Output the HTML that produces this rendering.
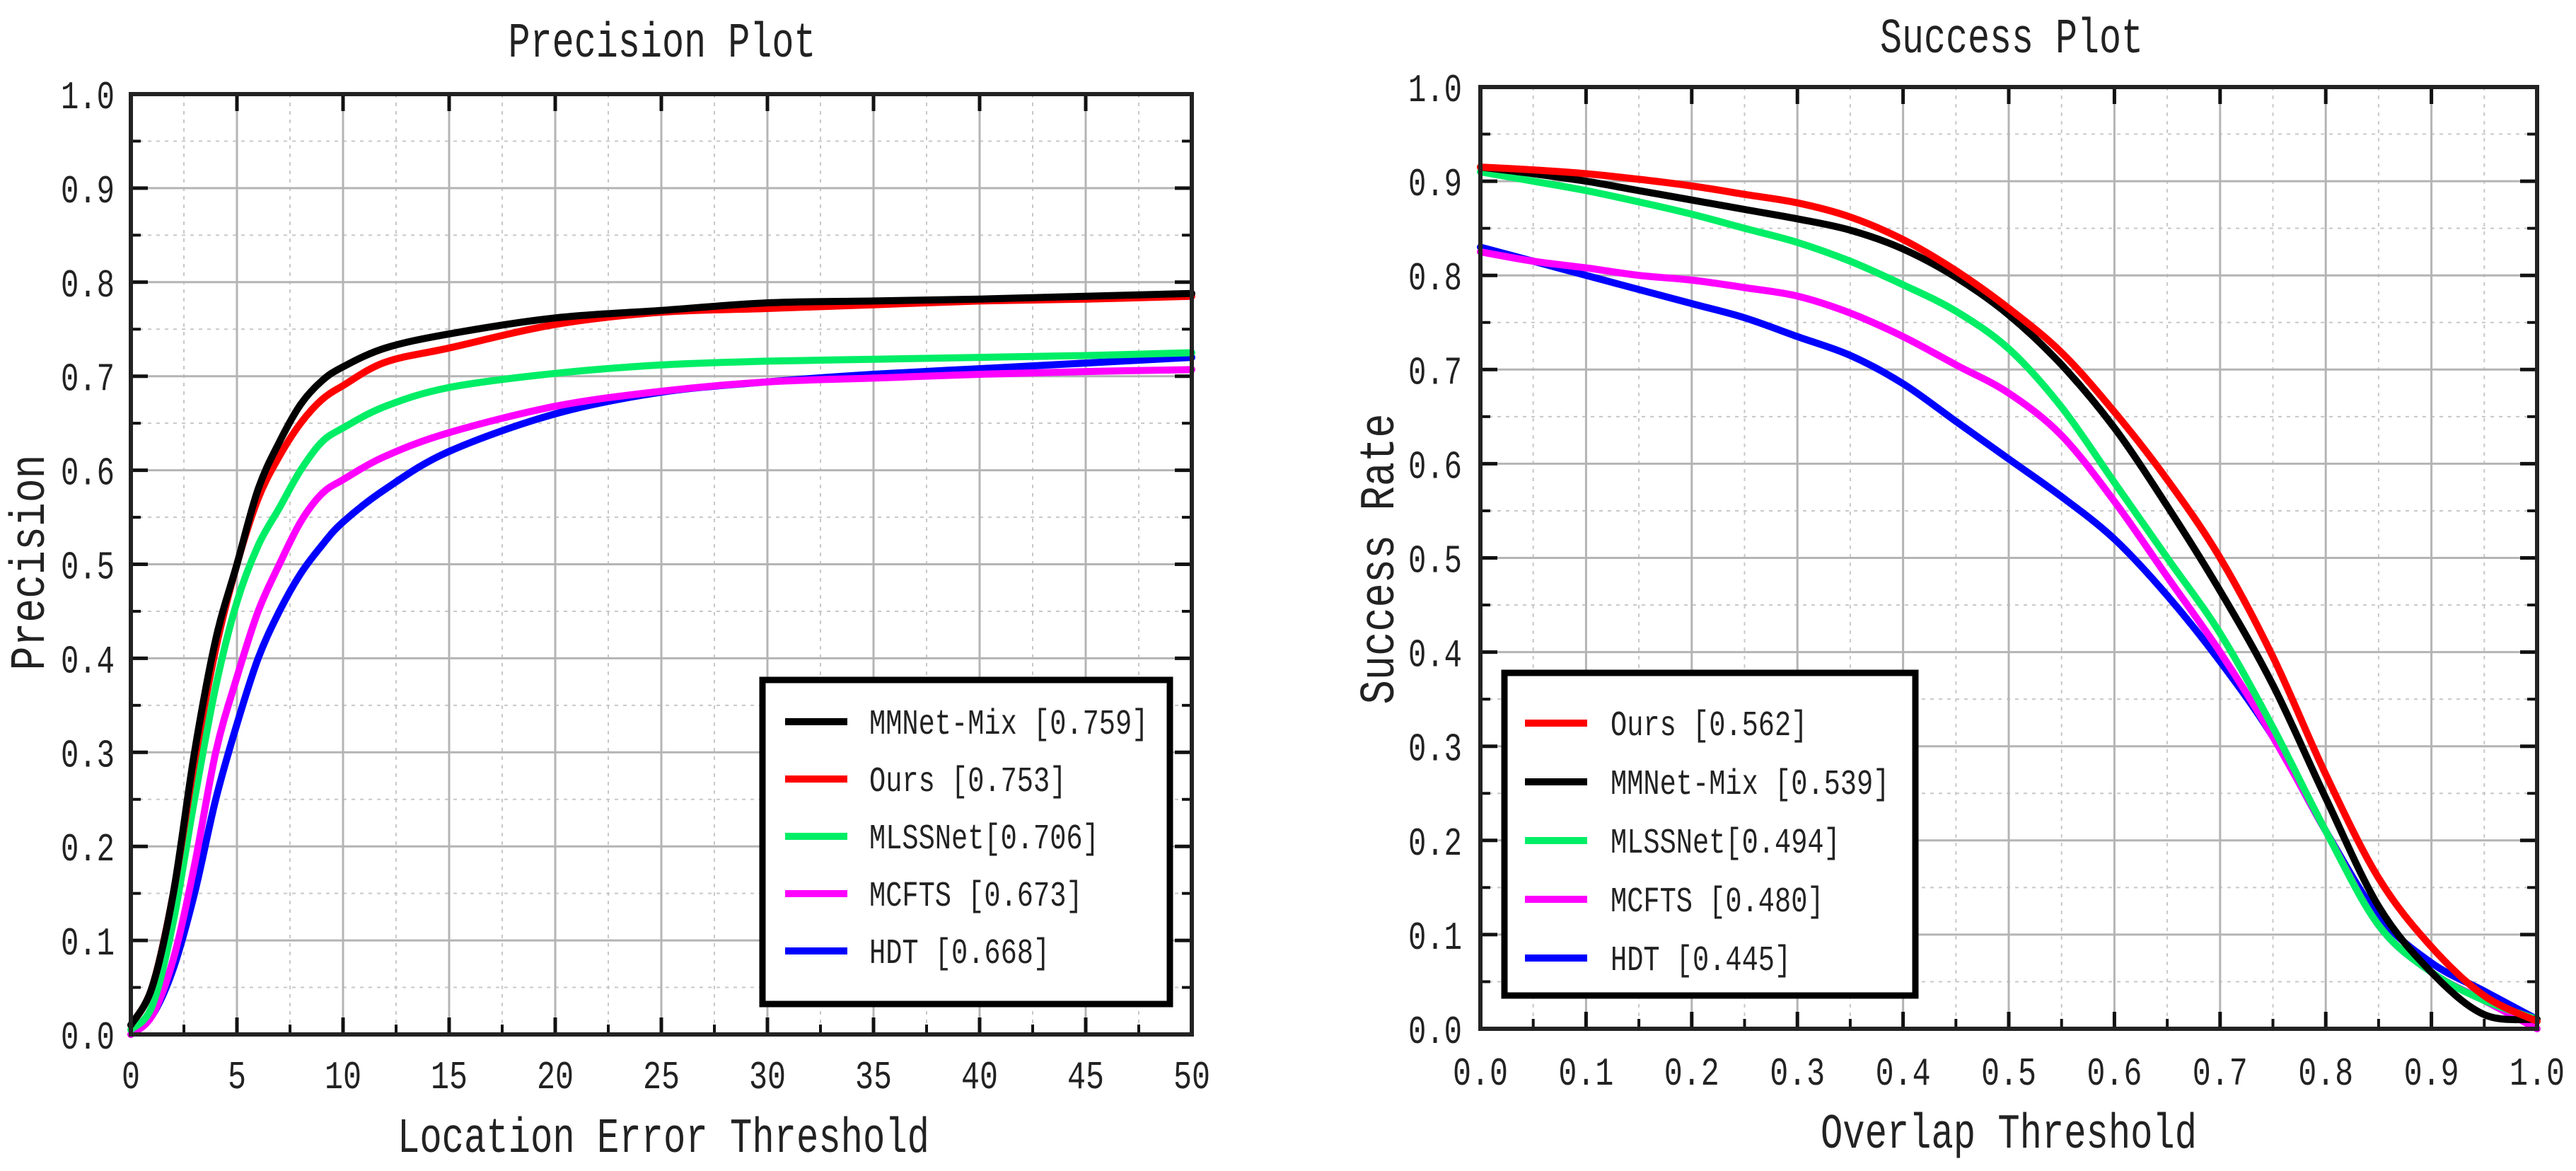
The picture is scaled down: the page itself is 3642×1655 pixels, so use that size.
<!DOCTYPE html>
<html><head><meta charset="utf-8"><style>html,body{margin:0;padding:0;background:#fff}svg{display:block}text{font-family:"Liberation Mono",monospace;fill:#222}</style></head>
<body>
<svg id="svg" width="3642" height="1655" viewBox="0 0 3642 1655" xmlns="http://www.w3.org/2000/svg"></svg>
<script>
const precX = [0,1,2,3,4,5,6,7,8,9,10,12,15,20,25,30,35,40,45,50];
const precMMNet = [0.01,0.05,0.15,0.30,0.42,0.50,0.58,0.63,0.67,0.695,0.71,0.73,0.745,0.762,0.77,0.778,0.78,0.782,0.785,0.788];
const precOurs = [0.01,0.05,0.15,0.29,0.41,0.50,0.57,0.615,0.65,0.675,0.69,0.715,0.73,0.755,0.768,0.772,0.776,0.78,0.782,0.785];
const precMLSS = [0.005,0.03,0.12,0.25,0.37,0.46,0.52,0.56,0.60,0.63,0.645,0.668,0.688,0.703,0.712,0.716,0.718,0.72,0.722,0.725];
const precMCFTS = [0,0.02,0.08,0.18,0.30,0.38,0.45,0.50,0.545,0.575,0.59,0.615,0.64,0.668,0.684,0.694,0.698,0.702,0.705,0.707];
const precHDT = [0,0.02,0.07,0.15,0.25,0.33,0.40,0.45,0.49,0.52,0.545,0.58,0.62,0.66,0.683,0.694,0.702,0.708,0.714,0.72];
const succX = [0,0.05,0.1,0.15,0.2,0.25,0.3,0.35,0.4,0.45,0.5,0.55,0.6,0.65,0.7,0.75,0.8,0.85,0.9,0.95,1.0];
const succOurs = [0.915,0.912,0.908,0.902,0.895,0.886,0.877,0.862,0.838,0.805,0.765,0.718,0.655,0.583,0.50,0.395,0.27,0.16,0.087,0.035,0.008];
const succMMNet = [0.915,0.908,0.90,0.89,0.88,0.87,0.86,0.848,0.828,0.798,0.758,0.705,0.638,0.555,0.465,0.365,0.245,0.13,0.06,0.015,0.01];
const succMLSS = [0.91,0.90,0.89,0.878,0.865,0.85,0.835,0.815,0.79,0.762,0.722,0.66,0.58,0.50,0.42,0.32,0.21,0.11,0.06,0.03,0.01];
const succMCFTS = [0.825,0.815,0.808,0.80,0.795,0.787,0.778,0.76,0.735,0.705,0.675,0.63,0.56,0.48,0.40,0.31,0.21,0.11,0.06,0.03,0];
const succHDT = [0.83,0.815,0.80,0.785,0.77,0.755,0.735,0.715,0.685,0.645,0.605,0.565,0.52,0.46,0.39,0.31,0.21,0.12,0.07,0.04,0.01];
const precXTicks = ["0","5","10","15","20","25","30","35","40","45","50"];
const yTicks = ["0.0","0.1","0.2","0.3","0.4","0.5","0.6","0.7","0.8","0.9","1.0"];
const succXTicks = ["0.0","0.1","0.2","0.3","0.4","0.5","0.6","0.7","0.8","0.9","1.0"];
const precLegend = ["MMNet-Mix [0.759]","Ours [0.753]","MLSSNet[0.706]","MCFTS [0.673]","HDT [0.668]"];
const succLegend = ["Ours [0.562]","MMNet-Mix [0.539]","MLSSNet[0.494]","MCFTS [0.480]","HDT [0.445]"];

const NS="http://www.w3.org/2000/svg";
const svg=document.getElementById('svg');
function mk(tag,attrs,parent,txt){const e=document.createElementNS(NS,tag);for(const k in attrs)e.setAttribute(k,attrs[k]);if(txt!==undefined)e.textContent=txt;(parent||svg).appendChild(e);return e;}
function smooth(pts){let d="M"+pts[0][0]+","+pts[0][1];for(let i=0;i<pts.length-1;i++){const p0=pts[Math.max(0,i-1)],p1=pts[i],p2=pts[i+1],p3=pts[Math.min(pts.length-1,i+2)];const c1x=p1[0]+(p2[0]-p0[0])/6,c1y=p1[1]+(p2[1]-p0[1])/6,c2x=p2[0]-(p3[0]-p1[0])/6,c2y=p2[1]-(p3[1]-p1[1])/6;d+=" C"+c1x.toFixed(1)+","+c1y.toFixed(1)+" "+c2x.toFixed(1)+","+c2y.toFixed(1)+" "+p2[0].toFixed(1)+","+p2[1].toFixed(1);}return d;}

function chart(o){
  const g=mk('g',{});
  
  
  const sx=v=>o.L+(v-o.xmin)/(o.xmax-o.xmin)*(o.R-o.L);
  const sy=v=>o.B-v*(o.B-o.T);
  for(let i=0;i<10;i++){
    const vx=o.xmin+(i+0.5)*(o.xmax-o.xmin)/10;
    const l=mk('line',{x1:sx(vx),x2:sx(vx),y1:o.T,y2:o.B,stroke:'#c8c8c8','stroke-width':2,'stroke-dasharray':'5,7'},g);
    
    const vy=(i+0.5)/10;
    const l2=mk('line',{x1:o.L,x2:o.R,y1:sy(vy),y2:sy(vy),stroke:'#c8c8c8','stroke-width':2,'stroke-dasharray':'5,7'},g);
    
    mk('line',{x1:o.L,x2:o.L+14,y1:sy(vy),y2:sy(vy),stroke:'#111','stroke-width':4},g);
    mk('line',{x1:o.R,x2:o.R-14,y1:sy(vy),y2:sy(vy),stroke:'#111','stroke-width':4},g);
    mk('line',{x1:sx(vx),x2:sx(vx),y1:o.B,y2:o.B-14,stroke:'#111','stroke-width':4},g);
  }
  for(let i=0;i<=10;i++){
    const vx=o.xmin+i*(o.xmax-o.xmin)/10, vy=i/10;
    const a=mk('line',{x1:sx(vx),x2:sx(vx),y1:o.T,y2:o.B,stroke:'#b4b4b4','stroke-width':3},g);
    
    const b=mk('line',{x1:o.L,x2:o.R,y1:sy(vy),y2:sy(vy),stroke:'#b4b4b4','stroke-width':3},g);
    
    mk('line',{x1:o.L,x2:o.L+24,y1:sy(vy),y2:sy(vy),stroke:'#111','stroke-width':5},g);
    mk('line',{x1:o.R,x2:o.R-24,y1:sy(vy),y2:sy(vy),stroke:'#111','stroke-width':5},g);
    mk('line',{x1:sx(vx),x2:sx(vx),y1:o.B,y2:o.B-24,stroke:'#111','stroke-width':5},g);
    mk('line',{x1:sx(vx),x2:sx(vx),y1:o.T,y2:o.T+24,stroke:'#111','stroke-width':5},g);
    const yl=mk('text',{x:o.ytx,y:sy(vy)+20,'text-anchor':'end','font-size':56,textLength:76,lengthAdjust:'spacingAndGlyphs'},g,yTicks[i]);
    
    const t=o.xticks[i];
    const xl=mk('text',{x:sx(vx),y:o.xty,'text-anchor':'middle','font-size':56,textLength:t.length*26,lengthAdjust:'spacingAndGlyphs'},g,t);
    
  }
  o.series.forEach(s=>{
    const pts=o.xs.map((x,i)=>[sx(x),sy(s.v[i])]);
    const p=mk('path',{d:smooth(pts),fill:'none',stroke:s.c,'stroke-width':10,'stroke-linejoin':'round','stroke-linecap':'round'},g);
    
  });
  const fr=mk('rect',{x:o.L,y:o.T,width:o.R-o.L,height:o.B-o.T,fill:'none',stroke:'#222','stroke-width':6},g);
  
  const lg=mk('g',{},g);
  
  mk('rect',{x:o.lg.x,y:o.lg.y,width:o.lg.w,height:o.lg.h,fill:'#fff',stroke:'#000','stroke-width':9},lg);
  o.legendOrder.forEach((s,i)=>{
    const y=o.lg.r0+i*o.lg.dy;
    const e=mk('g',{},lg);
    
    mk('line',{x1:o.lg.lx,x2:o.lg.lx+88,y1:y,y2:y,stroke:s.c,'stroke-width':10},e);
    const lbl=o.lg.labels[i];
    mk('text',{x:o.lg.tx,y:y+17,'font-size':50,textLength:lbl.length*23.2,lengthAdjust:'spacingAndGlyphs'},e,lbl);
  });
  const tt=mk('text',{x:o.title[0],y:o.title[1],'text-anchor':'middle','font-size':70,textLength:o.title[2],lengthAdjust:'spacingAndGlyphs'},g,o.title[3]);
  
  const xt=mk('text',{x:o.xt[0],y:o.xt[1],'text-anchor':'middle','font-size':70,textLength:o.xt[2],lengthAdjust:'spacingAndGlyphs'},g,o.xt[3]);
  
  const yt=mk('text',{x:0,y:0,'text-anchor':'middle','font-size':70,textLength:o.yt[2],lengthAdjust:'spacingAndGlyphs',transform:'translate('+o.yt[0]+','+o.yt[1]+') rotate(-90)'},g,o.yt[3]);
  
}
const C={k:'#000',r:'#ff0000',g:'#00ee66',m:'#ff00ff',b:'#0000ff'};
chart({name:'precision-plot',L:185,R:1685,T:133,B:1462,xmin:0,xmax:50,xs:precX,xticks:precXTicks,ytx:162,xty:1538,
  series:[{n:'hdt-line',c:C.b,v:precHDT},{n:'mcfts-line',c:C.m,v:precMCFTS},{n:'mlssnet-line',c:C.g,v:precMLSS},{n:'ours-line',c:C.r,v:precOurs},{n:'mmnet-mix-line',c:C.k,v:precMMNet}],
  legendOrder:[{c:C.k},{c:C.r},{c:C.g},{c:C.m},{c:C.b}],
  lg:{x:1078,y:961,w:576,h:458,lx:1110,tx:1229,r0:1020,dy:81,labels:precLegend},
  title:[936,80,435,'Precision Plot'],xt:[938,1628,752,'Location Error Threshold'],yt:[62,795,305,'Precision']});
chart({name:'success-plot',L:2093,R:3587,T:123,B:1454,xmin:0,xmax:1,xs:succX,xticks:succXTicks,ytx:2067,xty:1533,
  series:[{n:'hdt-line',c:C.b,v:succHDT},{n:'mcfts-line',c:C.m,v:succMCFTS},{n:'mlssnet-line',c:C.g,v:succMLSS},{n:'mmnet-mix-line',c:C.k,v:succMMNet},{n:'ours-line',c:C.r,v:succOurs}],
  legendOrder:[{c:C.r},{c:C.k},{c:C.g},{c:C.m},{c:C.b}],
  lg:{x:2127,y:951,w:581,h:456,lx:2156,tx:2277,r0:1022,dy:83,labels:succLegend},
  title:[2844,74,372,'Success Plot'],xt:[2840,1622,532,'Overlap Threshold'],yt:[1970,790,411,'Success Rate']});
</script>
</body></html>
